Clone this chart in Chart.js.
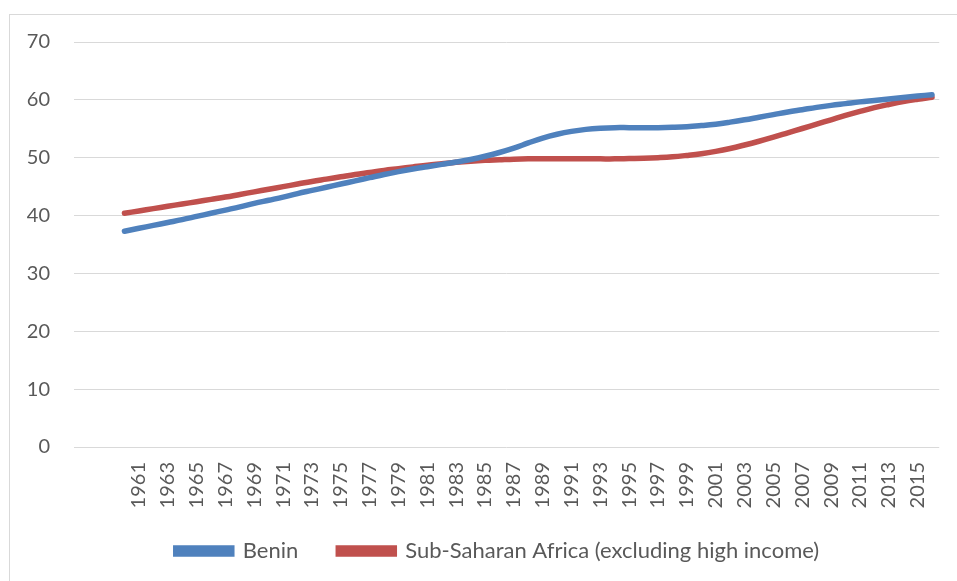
<!DOCTYPE html>
<html>
<head>
<meta charset="utf-8">
<script src="https://cdn.jsdelivr.net/npm/chart.js@4.4.0/dist/chart.umd.min.js"></script>
<style>
  html, body { margin: 0; padding: 0; background: #fff; }
  canvas { display: block; }
</style>
</head>
<body>
<canvas id="chart" width="957" height="581"></canvas>
<script>
// years with data (1960-2016)
const years = [];
for (let y = 1960; y <= 2016; y++) years.push(y);

const tickYears = [1961, 1963, 1965, 1967, 1969, 1971, 1973, 1975, 1977, 1979, 1981, 1983, 1985, 1987,
  1989, 1991, 1993, 1995, 1997, 1999, 2001, 2003, 2005, 2007, 2009, 2011, 2013, 2015];

const benin = [37.3, 37.8, 38.3, 38.8, 39.3, 39.85, 40.4, 40.95, 41.5, 42.1,
  42.65, 43.2, 43.8, 44.35, 44.9, 45.45, 46.0, 46.55, 47.1, 47.6,
  48.05, 48.45, 48.85, 49.25, 49.7, 50.25, 50.9, 51.65, 52.55, 53.4,
  54.05, 54.55, 54.9, 55.1, 55.2, 55.2, 55.2, 55.2, 55.25, 55.35,
  55.55, 55.8, 56.15, 56.55, 57.0, 57.45, 57.9, 58.3, 58.7, 59.05,
  59.35, 59.65, 59.9, 60.15, 60.4, 60.65, 60.9];

const ssa = [40.4, 40.8, 41.2, 41.6, 42.0, 42.4, 42.8, 43.2, 43.65, 44.1,
  44.55, 45.0, 45.45, 45.9, 46.3, 46.7, 47.1, 47.45, 47.8, 48.1,
  48.4, 48.7, 48.95, 49.2, 49.4, 49.55, 49.65, 49.75, 49.8, 49.8,
  49.8, 49.8, 49.8, 49.8, 49.8, 49.85, 49.9, 50.0, 50.15, 50.4,
  50.7, 51.1, 51.6, 52.2, 52.85, 53.55, 54.3, 55.05, 55.8, 56.55,
  57.3, 58.0, 58.65, 59.2, 59.7, 60.1, 60.45];

const FONT = 'Lato, "Open Sans", sans-serif';
const TEXT = '#595959';

const frame = {
  id: 'frame',
  beforeDraw(chart) {
    const ctx = chart.ctx;
    ctx.save();
    ctx.fillStyle = '#fff';
    ctx.fillRect(0, 0, chart.width, chart.height);
    ctx.strokeStyle = '#d9d9d9';
    ctx.lineWidth = 1;
    ctx.strokeRect(9.5, 14.5, chart.width, chart.height);
    ctx.restore();
    // legend sits a bit higher and to the right, overlapping the axis band like in Excel
    chart.legend.top = 500;
    chart.legend.left = 54;
  }
};

function series(label, values, color) {
  return {
    label,
    data: years.map((y, i) => ({ x: y, y: values[i] })),
    borderColor: color,
    backgroundColor: color,
    borderWidth: 5.5,
    borderCapStyle: 'round',
    pointRadius: 0,
    tension: 0.4
  };
}

new Chart(document.getElementById('chart'), {
  type: 'line',
  data: {
    datasets: [
      series('Benin', benin, '#4f81bd'),
      series('Sub-Saharan Africa (excluding high income)', ssa, '#c0504d')
    ]
  },
  options: {
    responsive: false,
    animation: false,
    layout: { padding: { left: 0, right: 16, top: 42, bottom: 0 } },
    plugins: {
      tooltip: { enabled: false },
      legend: {
        position: 'bottom',
        maxHeight: 62,
        labels: {
          boxWidth: 56,
          boxHeight: 6,
          borderRadius: 3,
          padding: 40,
          color: TEXT,
          font: { family: FONT, size: 22 }
        }
      }
    },
    scales: {
      x: {
        type: 'linear',
        min: 1956.5,
        max: 2016.5,
        afterBuildTicks: (scale) => { scale.ticks = tickYears.map(v => ({ value: v })); },
        afterFit: (scale) => { scale.height = 72; },
        grid: { display: false, drawTicks: false },
        border: { display: false },
        ticks: {
          autoSkip: false,
          minRotation: 90,
          maxRotation: 90,
          padding: 15,
          color: TEXT,
          font: { family: FONT, size: 20 },
          callback: (v) => String(v)
        }
      },
      y: {
        min: 0,
        max: 70,
        afterFit: (scale) => { scale.width = 74; },
        grid: { color: '#d9d9d9', lineWidth: 1, drawTicks: false },
        border: { display: false },
        ticks: {
          stepSize: 10,
          padding: 24,
          color: TEXT,
          font: { family: FONT, size: 20 }
        }
      }
    }
  },
  plugins: [frame]
});
</script>
</body>
</html>
